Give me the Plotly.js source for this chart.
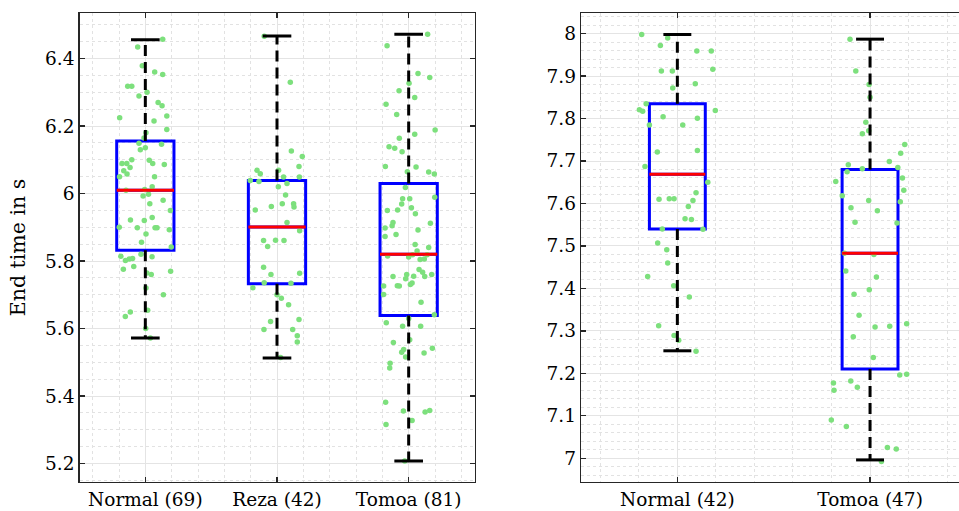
<!DOCTYPE html>
<html>
<head>
<meta charset="utf-8">
<script src="https://cdn.plot.ly/plotly-3.0.1.min.js"></script>
<style>html,body{margin:0;padding:0;background:#fff;}#chart{width:959px;height:511px;}</style>
</head>
<body>
<div id="chart"></div>
<script>
// ---------- categories / tick labels ----------
const leftCategories = ['Normal (69)', 'Reza (42)', 'Tomoa (81)'];
const rightCategories = ['Normal (42)', 'Tomoa (47)'];
const leftYTickLabels = ['5.2', '5.4', '5.6', '5.8', '6', '6.2', '6.4'];
const rightYTickLabels = ['7', '7.1', '7.2', '7.3', '7.4', '7.5', '7.6', '7.7', '7.8', '7.9', '8'];
const yAxisTitle = 'End time in s';

// ---------- box statistics ----------
const leftLower  = [5.572, 5.513, 5.208];
const leftQ1     = [5.832, 5.733, 5.639];
const leftMedian = [6.010, 5.901, 5.820];
const leftQ3     = [6.156, 6.039, 6.030];
const leftUpper  = [6.456, 6.467, 6.472];

const rightLower  = [7.253, 6.996];
const rightQ1     = [7.540, 7.210];
const rightMedian = [7.669, 7.483];
const rightQ3     = [7.835, 7.680];
const rightUpper  = [7.998, 7.987];

// ---------- individual observations (value, horizontal jitter) ----------
const normalLeftY = [6.457,6.434,6.379,6.360,6.353,6.318,6.318,6.300,6.289,6.270,6.260,6.230,6.225,6.215,6.190,6.180,6.149,6.146,6.136,6.130,6.100,6.099,6.089,6.089,6.089,6.086,6.077,6.068,6.058,6.050,6.050,6.020,6.010,5.998,5.993,5.980,5.970,5.950,5.922,5.920,5.929,5.900,5.899,5.899,5.899,5.893,5.856,5.842,5.814,5.802,5.806,5.808,5.820,5.813,5.776,5.784,5.765,5.760,5.770,5.700,5.654,5.649,5.636,5.600,5.572,6.012,5.880,6.165,5.720];
const normalLeftJitter = [0.132,-0.058,-0.023,0.071,0.132,-0.134,-0.103,0.013,-0.048,0.097,0.127,0.163,-0.195,0.066,0.163,0.005,-0.048,0.123,0.000,-0.038,-0.103,0.030,-0.177,-0.141,0.056,0.144,-0.116,-0.164,-0.139,-0.196,0.070,0.052,-0.147,0.024,-0.017,0.135,0.034,0.190,-0.113,-0.008,0.052,-0.198,-0.061,0.074,0.089,0.182,-0.029,0.197,-0.186,-0.151,-0.122,-0.097,-0.033,0.051,-0.167,-0.088,0.011,0.045,0.192,0.137,0.018,-0.114,-0.152,0.003,0.038,-0.005,0.005,-0.010,0.005];

const rezaY = [6.466,6.330,6.126,6.110,6.080,6.069,6.059,6.069,6.049,6.049,6.039,6.036,6.030,6.020,5.996,5.951,5.962,5.970,5.970,5.960,5.914,5.890,5.861,5.843,5.862,5.861,5.782,5.760,5.764,5.721,5.736,5.734,5.690,5.671,5.627,5.621,5.597,5.597,5.579,5.560,5.514,5.700];
const rezaJitter = [-0.097,0.101,0.109,0.192,0.167,-0.152,-0.127,0.012,0.050,0.170,-0.203,-0.137,0.076,0.010,0.065,-0.165,-0.043,0.040,0.126,0.129,0.076,0.172,-0.102,-0.071,-0.011,0.053,-0.102,-0.046,0.172,-0.183,-0.097,0.106,0.033,0.088,0.167,-0.049,-0.099,0.119,0.154,0.154,0.027,0.000];

const tomoaLeftY = [6.472,6.438,6.356,6.344,6.327,6.305,6.285,6.265,6.234,6.188,6.176,6.164,6.139,6.134,6.124,6.080,6.079,6.065,6.064,6.058,6.018,5.985,5.985,5.989,5.969,5.958,5.950,5.951,5.940,5.912,5.914,5.905,5.898,5.892,5.879,5.873,5.849,5.840,5.830,5.815,5.812,5.819,5.819,5.805,5.806,5.775,5.767,5.760,5.748,5.754,5.755,5.754,5.760,5.726,5.727,5.726,5.731,5.735,5.701,5.678,5.641,5.630,5.617,5.607,5.607,5.567,5.559,5.538,5.530,5.516,5.528,5.542,5.497,5.483,5.382,5.356,5.328,5.353,5.357,5.316,5.208];
const tomoaLeftJitter = [0.144,-0.164,0.071,0.160,0.003,-0.073,0.046,-0.172,-0.091,0.201,0.046,-0.071,-0.149,-0.106,-0.050,-0.177,0.056,-0.010,0.152,0.195,-0.025,-0.046,0.008,0.198,-0.053,0.021,-0.162,-0.084,0.051,0.165,-0.119,-0.126,-0.179,0.071,-0.096,-0.179,0.049,0.152,0.064,-0.160,0.000,0.030,0.140,0.087,0.119,0.079,0.106,-0.015,-0.023,-0.119,0.038,0.122,0.175,-0.190,-0.086,-0.071,0.013,0.026,-0.190,0.094,0.195,0.000,-0.170,-0.046,0.091,0.008,-0.116,-0.038,-0.053,-0.023,0.117,0.180,-0.141,-0.144,-0.175,-0.040,0.026,0.125,0.160,-0.172,-0.030];

const normalRightY = [7.998,7.990,7.972,7.959,7.959,7.912,7.912,7.916,7.882,7.872,7.835,7.821,7.817,7.819,7.804,7.801,7.785,7.785,7.721,7.725,7.687,7.650,7.610,7.611,7.611,7.625,7.607,7.593,7.564,7.562,7.540,7.539,7.507,7.491,7.460,7.428,7.406,7.380,7.312,7.289,7.278,7.252];
const normalRightJitter = [-0.185,-0.050,-0.088,0.101,0.176,-0.083,-0.026,0.184,0.093,-0.024,-0.162,-0.197,-0.180,0.197,-0.074,0.104,-0.145,0.028,-0.104,0.104,-0.168,0.158,-0.095,-0.042,-0.017,0.097,0.081,0.057,0.040,0.073,-0.078,0.133,-0.102,-0.055,-0.050,-0.154,-0.019,0.062,-0.097,-0.017,0.007,0.097];

const tomoaRightY = [7.987,7.912,7.880,7.791,7.764,7.771,7.739,7.718,7.699,7.691,7.675,7.682,7.685,7.660,7.652,7.631,7.618,7.604,7.607,7.590,7.583,7.556,7.554,7.483,7.441,7.427,7.397,7.386,7.337,7.309,7.311,7.317,7.286,7.237,7.196,7.198,7.177,7.182,7.160,7.167,7.090,7.075,7.025,7.022,6.992,7.480,7.850];
const tomoaRightJitter = [-0.104,-0.074,-0.005,-0.022,-0.040,-0.007,0.180,0.159,0.100,-0.113,-0.119,-0.040,0.144,0.168,-0.178,0.175,-0.144,0.157,-0.007,-0.099,0.038,-0.078,0.140,-0.133,-0.126,0.033,-0.004,-0.083,-0.057,0.026,0.102,0.190,-0.087,0.017,0.154,0.190,-0.190,-0.100,-0.187,-0.066,-0.201,-0.123,0.090,0.136,0.059,0.020,0.000];

// ---------- styling ----------
const SERIF = 'DejaVu Serif';
const POINT_COLOR = 'rgb(125,224,125)';
const BOX_COLOR = '#0000ff';
const MEDIAN_COLOR = '#ff0000';
const AXIS_COLOR = '#262626';

const traces = [];

function addPanel(xa, ya, positions, groupsY, groupsJ, q1, med, q3, lo, hi, boxWidth) {
  groupsY.forEach((ys, i) => {
    traces.push({
      type: 'scatter', mode: 'markers', xaxis: xa, yaxis: ya,
      x: ys.map((_, k) => positions[i] + groupsJ[i][k]), y: ys,
      marker: {color: POINT_COLOR, size: 5.5, line: {width: 0}},
      hoverinfo: 'y', showlegend: false
    });
  });
  const wx = [], wy = [];
  positions.forEach((p, i) => {
    wx.push(p, p, null, p, p, null);
    wy.push(q3[i], hi[i], null, q1[i], lo[i], null);
  });
  traces.push({type: 'scatter', mode: 'lines', xaxis: xa, yaxis: ya, x: wx, y: wy,
    line: {color: '#000', width: 3, dash: '11px,6px'}, hoverinfo: 'skip', showlegend: false});
  const cx = [], cy = [];
  const capHalf = boxWidth / 4;
  positions.forEach((p, i) => {
    cx.push(p - capHalf, p + capHalf, null, p - capHalf, p + capHalf, null);
    cy.push(hi[i], hi[i], null, lo[i], lo[i], null);
  });
  traces.push({type: 'scatter', mode: 'lines', xaxis: xa, yaxis: ya, x: cx, y: cy,
    line: {color: '#000', width: 3}, hoverinfo: 'skip', showlegend: false});
  traces.push({type: 'box', xaxis: xa, yaxis: ya, x: positions,
    q1: q1, median: med, q3: q3, lowerfence: q1, upperfence: q3,
    width: boxWidth, whiskerwidth: 0,
    line: {color: BOX_COLOR, width: 3}, fillcolor: 'rgba(0,0,0,0)',
    hoverinfo: 'skip', showlegend: false});
  const mx = [], my = [];
  positions.forEach((p, i) => {
    mx.push(p - boxWidth / 2, p + boxWidth / 2, null);
    my.push(med[i], med[i], null);
  });
  traces.push({type: 'scatter', mode: 'lines', xaxis: xa, yaxis: ya, x: mx, y: my,
    line: {color: MEDIAN_COLOR, width: 3}, hoverinfo: 'skip', showlegend: false});
}

const leftPos = leftCategories.map((_, i) => i + 1);
const rightPos = rightCategories.map((_, i) => i + 1);

addPanel('x', 'y', leftPos, [normalLeftY, rezaY, tomoaLeftY],
  [normalLeftJitter, rezaJitter, tomoaLeftJitter],
  leftQ1, leftMedian, leftQ3, leftLower, leftUpper, 0.435);
addPanel('x2', 'y2', rightPos, [normalRightY, tomoaRightY],
  [normalRightJitter, tomoaRightJitter],
  rightQ1, rightMedian, rightQ3, rightLower, rightUpper, 0.29);

const tickFont = {family: SERIF, size: 18.5, color: '#000'};
const titleFont = {family: SERIF, size: 20.5, color: '#000'};
const gridCommon = {
  showgrid: true, gridcolor: '#e4e4e4', gridwidth: 1,
  zeroline: false, showline: true, linecolor: AXIS_COLOR, linewidth: 1.3,
  ticks: 'inside', ticklen: 5, tickwidth: 1.3, tickcolor: AXIS_COLOR,
  tickfont: tickFont
};
const minorGrid = (d) => ({showgrid: true, dtick: d, tick0: 0, gridcolor: '#e2e2e2', griddash: 'dot', gridwidth: 1});

const layout = {
  width: 959, height: 511,
  font: {family: SERIF, size: 18.5, color: '#000'},
  margin: {l: 0, r: 0, t: 13, b: 29, pad: 0},
  paper_bgcolor: '#fff', plot_bgcolor: '#fff',
  showlegend: false,
  boxmode: 'overlay',
  xaxis: Object.assign({}, gridCommon, {
    domain: [79.5 / 959, 474.5 / 959], anchor: 'y', type: 'linear',
    range: [0.5, 3.5], tickvals: leftPos, ticktext: leftCategories, mirror: 'ticks',
    minor: minorGrid(0.2)
  }),
  yaxis: Object.assign({}, gridCommon, {
    domain: [0, 1], anchor: 'x', range: [5.1455, 6.535],
    tickvals: leftYTickLabels.map(Number), ticktext: leftYTickLabels, mirror: 'ticks',
    title: {text: yAxisTitle, font: titleFont, standoff: 14},
    minor: minorGrid(0.05)
  }),
  xaxis2: Object.assign({}, gridCommon, {
    domain: [581 / 959, 1], anchor: 'y2', type: 'linear',
    range: [0.5, 2.4616], tickvals: rightPos, ticktext: rightCategories, mirror: 'ticks',
    minor: minorGrid(0.2)
  }),
  yaxis2: Object.assign({}, gridCommon, {
    domain: [0, 1], anchor: 'x2', range: [6.944, 8.0486],
    tickvals: rightYTickLabels.map(Number), ticktext: rightYTickLabels, mirror: false,
    minor: minorGrid(0.02)
  })
};

Plotly.newPlot('chart', traces, layout, {staticPlot: true, displayModeBar: false});
</script>
</body>
</html>
